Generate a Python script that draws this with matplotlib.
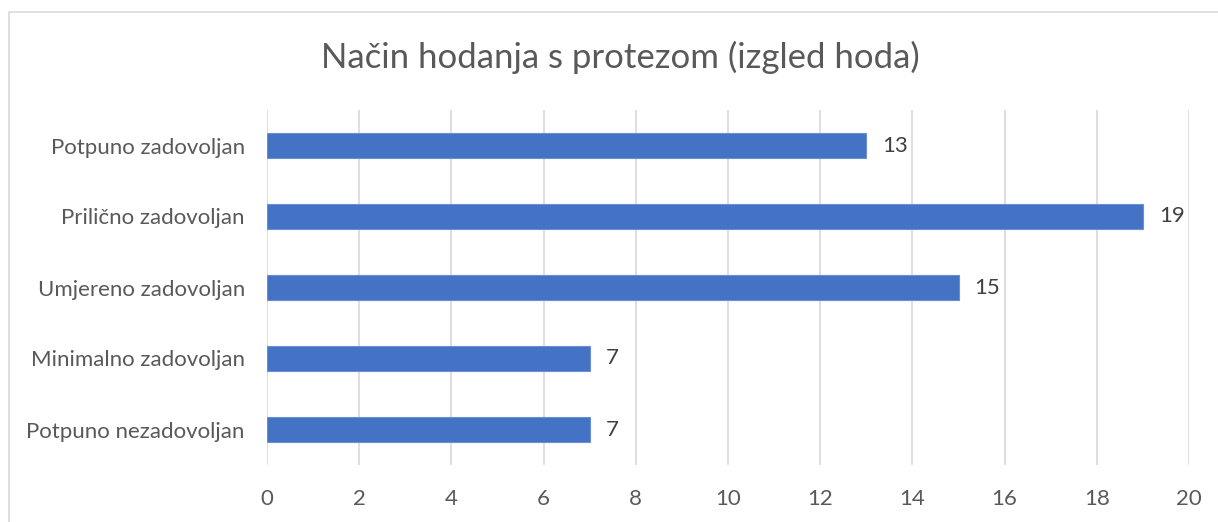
import matplotlib.pyplot as plt
from matplotlib.patches import Rectangle

# podaci
kategorije = ["Potpuno zadovoljan", "Prilično zadovoljan", "Umjereno zadovoljan",
              "Minimalno zadovoljan", "Potpuno nezadovoljan"]
vrijednosti = [13, 19, 15, 7, 7]
x_ticks = [0, 2, 4, 6, 8, 10, 12, 14, 16, 18, 20]
naslov = "Način hodanja s protezom (izgled hoda)"

plt.rcParams['font.family'] = ['Lato', 'DejaVu Sans']

W, H = 1218, 522
fig = plt.figure(figsize=(W / 100, H / 100), dpi=100)
fig.patch.set_facecolor("white")

# okvir grafikona
fig.patches.append(Rectangle((8.5 / W, -0.1), 1.2, 1 - 11.5 / H + 0.1,
                             transform=fig.transFigure, fill=False,
                             edgecolor="#d9d9d9", linewidth=1.2))

ax = fig.add_axes([267 / W, 1 - 465 / H, (1189 - 267) / W, (465 - 110) / H])

pos = list(range(len(kategorije)))[::-1]
ax.barh(pos, vrijednosti, height=0.35, color="#4472c4", edgecolor="#6a8fd3",
        linewidth=0.8, zorder=3)

for p, v in zip(pos, vrijednosti):
    ax.text(v + 0.35, p, str(v), va="center", ha="left", fontsize=16, color="#404040")

ax.set_xlim(0, 20)
ax.set_ylim(-0.5, len(kategorije) - 0.5)
ax.set_xticks(x_ticks)
ax.set_yticks(pos)
ax.set_yticklabels(kategorije)
ax.tick_params(axis="both", length=0, labelsize=16, labelcolor="#595959")
ax.tick_params(axis="x", pad=17)
ax.tick_params(axis="y", pad=16)
ax.grid(axis="x", color="#d9d9d9", linewidth=1.2, zorder=0)
for s in ax.spines.values():
    s.set_visible(False)

fig.text(620 / W, 1 - 57 / H, naslov, ha="center", va="center", fontsize=25, color="#595959")

fig.savefig("out.png", dpi=100)
